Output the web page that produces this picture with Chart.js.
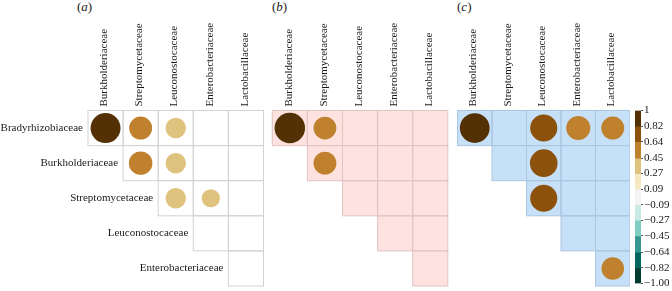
<!DOCTYPE html>
<html lang="en">
<head>
<meta charset="UTF-8">
<title>Family correlation matrices</title>
<script src="https://cdn.jsdelivr.net/npm/chart.js"></script>
<style>
    body {
        margin: 0;
        padding: 0;
        background: #fff;
        font-family: "Liberation Serif", serif;
    }
    #wrap {
        position: relative;
        width: 672px;
        height: 291px;
        overflow: hidden;
    }
    canvas {
        position: absolute;
        top: 0;
    }
    .tag {
        position: absolute;
        top: -1px;
        font-size: 13px;
        color: #1a1a1a;
    }
</style>
</head>
<body>
<div id="wrap">
    <div class="tag" style="left:77px">(<i>a</i>)</div>
    <div class="tag" style="left:272px">(<i>b</i>)</div>
    <div class="tag" style="left:457px">(<i>c</i>)</div>
    <canvas id="chartA" width="266" height="291" style="left:0"></canvas>
    <canvas id="chartB" width="190" height="291" style="left:262px"></canvas>
    <canvas id="chartC" width="180" height="291" style="left:450px"></canvas>
    <canvas id="colorbar" width="44" height="291" style="left:628px"></canvas>
</div>
<script>
const rowLabels = ['Bradyrhizobiaceae', 'Burkholderiaceae', 'Streptomycetaceae', 'Leuconostocaceae', 'Enterobacteriaceae'];
const colLabels = ['Burkholderiaceae', 'Streptomycetaceae', 'Leuconostocaceae', 'Enterobacteriaceae', 'Lactobacillaceae'];

// correlations, rows x cols (null = blank cell)
const corrA = [
    [0.90, 0.53, 0.42, null, null],
    [null, 0.55, 0.42, null, null],
    [null, null, 0.42, 0.33, null],
    [null, null, null, null, null],
    [null, null, null, null, null]
];
const corrB = [
    [0.93, 0.52, null, null, null],
    [null, 0.52, null, null, null],
    [null, null, null, null, null],
    [null, null, null, null, null],
    [null, null, null, null, null]
];
const corrC = [
    [0.92, null, 0.76, 0.60, 0.55],
    [null, null, 0.79, null, null],
    [null, null, 0.76, null, null],
    [null, null, null, null, null],
    [null, null, null, null, 0.53]
];

const colorBreaks = [1, 0.82, 0.64, 0.45, 0.27, 0.09, -0.09, -0.27, -0.45, -0.64, -0.82, -1.00];
const colorLabels = ['1', '0.82', '0.64', '0.45', '0.27', '0.09', '\u22120.09', '\u22120.27', '\u22120.45', '\u22120.64', '\u22120.82', '\u22121.00'];
const bandColors = ['#543005', '#8c510a', '#bf812d', '#dfc27d', '#f6e8c3', '#f3f3f3', '#c7eae5', '#80cdc1', '#35978f', '#01665e', '#003c30'];

const FONT = 'Liberation Serif';
const TEXT = '#1a1a1a';

function bandColor(v) {
    for (let i = 0; i < bandColors.length; i++) {
        if (v <= colorBreaks[i] && v >= colorBreaks[i + 1]) return bandColors[i];
    }
    return bandColors[bandColors.length - 1];
}

// grid cells of the upper triangle + row names along the diagonal
const cellPlugin = {
    id: 'cells',
    beforeDatasetsDraw(chart, args, opts) {
        const {ctx, scales: {x, y}} = chart;
        const w = x.getPixelForValue(1) - x.getPixelForValue(0);
        const h = y.getPixelForValue(1) - y.getPixelForValue(0);
        ctx.save();
        if (opts.fill) {
            ctx.fillStyle = opts.fill;
            rowLabels.forEach((r, i) => {
                colLabels.forEach((c, j) => {
                    if (j < i) return;
                    ctx.fillRect(x.getPixelForValue(j) - w / 2, y.getPixelForValue(i) - h / 2, w, h);
                });
            });
        }
        ctx.strokeStyle = opts.line;
        ctx.lineWidth = 1;
        rowLabels.forEach((r, i) => {
            colLabels.forEach((c, j) => {
                if (j < i) return;
                ctx.strokeRect(x.getPixelForValue(j) - w / 2, y.getPixelForValue(i) - h / 2, w, h);
            });
        });
        ctx.restore();
    },
    afterDraw(chart, args, opts) {
        if (!opts.rowNames) return;
        const {ctx, scales: {x, y}} = chart;
        const w = x.getPixelForValue(1) - x.getPixelForValue(0);
        ctx.save();
        ctx.font = '11px "' + FONT + '"';
        ctx.fillStyle = TEXT;
        ctx.textAlign = 'right';
        ctx.textBaseline = 'middle';
        rowLabels.forEach((r, i) => {
            ctx.fillText(r, x.getPixelForValue(i) - w / 2 - 5, y.getPixelForValue(i));
        });
        ctx.restore();
    }
};

function points(matrix) {
    const pts = [];
    matrix.forEach((row, i) => {
        row.forEach((v, j) => {
            if (v !== null) pts.push({x: colLabels[j], y: rowLabels[i], v: v});
        });
    });
    return pts;
}

function corrChart(id, matrix, pad, cellOpts) {
    new Chart(document.getElementById(id), {
        type: 'scatter',
        data: {
            datasets: [{
                data: points(matrix),
                pointRadius: ctx => {
                    const x = ctx.chart.scales.x;
                    const cell = x.getPixelForValue(1) - x.getPixelForValue(0);
                    return 0.45 * cell * Math.sqrt(Math.abs(ctx.raw.v));
                },
                backgroundColor: ctx => bandColor(ctx.raw.v),
                borderWidth: 0
            }]
        },
        options: {
            responsive: false,
            animation: false,
            events: [],
            layout: {padding: pad},
            plugins: {
                legend: {display: false},
                tooltip: {enabled: false},
                cells: cellOpts
            },
            scales: {
                x: {
                    type: 'category',
                    labels: colLabels,
                    position: 'top',
                    offset: true,
                    grid: {display: false, drawTicks: false},
                    border: {display: false},
                    ticks: {
                        autoSkip: false,
                        minRotation: 90,
                        maxRotation: 90,
                        padding: 4,
                        labelOffset: 12,
                        color: TEXT,
                        font: {family: FONT, size: 11}
                    },
                    afterFit(s) { s.height = 110.5; }
                },
                y: {
                    type: 'category',
                    labels: rowLabels,
                    offset: true,
                    display: false
                }
            }
        },
        plugins: [cellPlugin]
    });
}

corrChart('chartA', corrA, {left: 88, right: 2.5, top: 0, bottom: 5},
    {fill: null, line: '#d3d3d3', rowNames: true});
corrChart('chartB', corrB, {left: 10.3, right: 4.2, top: 0, bottom: 5},
    {fill: '#fde2e0', line: '#e2c4c3', rowNames: false});
corrChart('chartC', corrC, {left: 7.5, right: -3, top: 0, bottom: 5},
    {fill: '#c6e0f8', line: '#aac6e0', rowNames: false});

// colour key
new Chart(document.getElementById('colorbar'), {
    type: 'bar',
    data: {
        labels: ['key'],
        datasets: bandColors.map((c, i) => ({
            data: [[colorBreaks[i + 1], colorBreaks[i]]],
            backgroundColor: c,
            borderWidth: 0,
            grouped: false,
            barPercentage: 1,
            categoryPercentage: 1
        }))
    },
    options: {
        responsive: false,
        animation: false,
        events: [],
        layout: {padding: {left: 7, top: 110.5, bottom: 5, right: 0}},
        plugins: {legend: {display: false}, tooltip: {enabled: false}},
        scales: {
            x: {display: false},
            y: {
                position: 'right',
                min: -1,
                max: 1,
                afterBuildTicks(s) { s.ticks = colorBreaks.map(v => ({value: v})); },
                afterFit(s) { s.width = 31; },
                grid: {drawOnChartArea: false, drawTicks: true, tickLength: 2, color: '#555'},
                border: {display: false},
                ticks: {
                    autoSkip: false,
                    padding: 1,
                    color: TEXT,
                    font: {family: FONT, size: 11},
                    callback: (v, i) => colorLabels[i]
                }
            }
        }
    }
});
</script>
</body>
</html>
